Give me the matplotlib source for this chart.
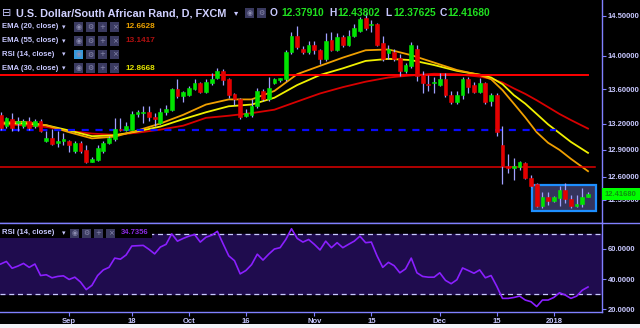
import matplotlib
matplotlib.use('Agg')
import matplotlib.pyplot as plt
import numpy as np
import pandas as pd
from matplotlib import font_manager
from matplotlib.patches import Rectangle
from matplotlib.lines import Line2D
from matplotlib.ticker import NullLocator

# ---- data (USD/ZAR daily, FXCM) ----
days = pd.bdate_range('2017-08-16', '2018-01-10')
days = days[~days.isin(pd.to_datetime(['2017-12-25', '2018-01-01']))]

opens = [13.30, 13.17, 13.25, 13.21, 13.17, 13.23, 13.17, 13.23, 13.00, 13.03,
         12.98, 13.00, 13.00, 12.89, 12.98, 12.90, 12.77, 12.79, 12.89, 12.98,
         13.02, 13.14, 13.12, 13.12, 13.31, 13.32, 13.33, 13.28, 13.21, 13.33,
         13.36, 13.60, 13.52, 13.53, 13.60, 13.67, 13.57, 13.67, 13.73, 13.82,
         13.72, 13.54, 13.48, 13.29, 13.30, 13.40, 13.58, 13.48, 13.68, 13.71,
         13.72, 14.05, 14.25, 14.09, 14.05, 14.13, 14.07, 13.96, 14.20, 14.07,
         14.23, 14.14, 14.25, 14.31, 14.47, 14.38, 14.39, 14.16, 14.04, 14.05,
         13.98, 13.82, 13.88, 14.09, 13.77, 13.66, 13.68, 13.65, 13.72, 13.53,
         13.45, 13.53, 13.72, 13.65, 13.57, 13.67, 13.46, 13.53, 12.96, 12.72,
         12.70, 12.71, 12.75, 12.59, 12.52, 12.28, 12.38, 12.34, 12.37, 12.46,
         12.36, 12.28, 12.31, 12.3791]
highs = [13.33, 13.28, 13.32, 13.27, 13.25, 13.28, 13.25, 13.25, 13.11, 13.14,
         13.11, 13.09, 13.01, 13.00, 13.00, 12.96, 12.82, 12.96, 13.00, 13.06,
         13.26, 13.26, 13.22, 13.34, 13.36, 13.40, 13.40, 13.32, 13.38, 13.42,
         13.62, 13.72, 13.58, 13.64, 13.72, 13.69, 13.72, 13.80, 13.85, 13.84,
         13.74, 13.56, 13.50, 13.37, 13.48, 13.61, 13.60, 13.75, 13.74, 13.74,
         14.07, 14.30, 14.37, 14.12, 14.18, 14.18, 14.08, 14.28, 14.30, 14.28,
         14.26, 14.32, 14.39, 14.49, 14.53, 14.45, 14.41, 14.24, 14.13, 14.08,
         14.02, 13.92, 14.17, 14.13, 13.82, 13.77, 13.75, 13.80, 13.80, 13.58,
         13.58, 13.75, 13.75, 13.69, 13.73, 13.69, 13.55, 13.55, 13.17, 12.85,
         12.81, 12.78, 12.77, 12.62, 12.53, 12.44, 12.43, 12.39, 12.50, 12.53,
         12.40, 12.40, 12.48, 12.43802]
lows = [13.12, 13.15, 13.11, 13.11, 13.15, 13.13, 13.15, 13.10, 12.99, 12.96,
        12.93, 12.96, 12.88, 12.87, 12.87, 12.75, 12.76, 12.78, 12.87, 12.97,
        13.00, 13.11, 13.11, 13.12, 13.27, 13.21, 13.23, 13.17, 13.19, 13.30,
        13.34, 13.50, 13.45, 13.52, 13.59, 13.55, 13.55, 13.65, 13.72, 13.65,
        13.50, 13.42, 13.25, 13.27, 13.28, 13.38, 13.46, 13.46, 13.66, 13.69,
        13.70, 14.02, 14.08, 14.02, 14.02, 14.02, 13.90, 13.94, 14.06, 14.06,
        14.11, 14.12, 14.23, 14.29, 14.32, 14.30, 14.12, 13.94, 13.96, 13.94,
        13.76, 13.80, 13.86, 13.70, 13.56, 13.58, 13.56, 13.64, 13.51, 13.43,
        13.43, 13.48, 13.56, 13.56, 13.56, 13.43, 13.40, 13.06, 12.52, 12.64,
        12.57, 12.68, 12.58, 12.49, 12.27, 12.26, 12.29, 12.33, 12.28, 12.32,
        12.26, 12.27, 12.27, 12.37625]
closes = [13.15, 13.26, 13.15, 13.23, 13.23, 13.15, 13.23, 13.11, 13.04, 12.97,
          13.00, 13.02, 12.95, 12.98, 12.89, 12.76, 12.80, 12.92, 12.98, 13.04,
          13.14, 13.12, 13.17, 13.31, 13.33, 13.33, 13.28, 13.25, 13.33, 13.37,
          13.60, 13.52, 13.57, 13.61, 13.67, 13.57, 13.69, 13.72, 13.82, 13.71,
          13.53, 13.48, 13.27, 13.32, 13.40, 13.58, 13.48, 13.62, 13.72, 13.73,
          14.05, 14.25, 14.11, 14.05, 14.13, 14.07, 13.96, 14.19, 14.07, 14.23,
          14.14, 14.25, 14.35, 14.46, 14.35, 14.40, 14.14, 13.96, 14.08, 13.96,
          13.82, 13.89, 14.13, 13.76, 13.67, 13.65, 13.69, 13.72, 13.53, 13.45,
          13.53, 13.72, 13.63, 13.57, 13.67, 13.45, 13.53, 13.10, 12.72, 12.70,
          12.72, 12.76, 12.59, 12.50, 12.28, 12.38, 12.34, 12.38, 12.46, 12.36,
          12.28, 12.31, 12.38, 12.4168]

rsi = [49.9, 51.6, 47.1, 48.5, 50.3, 47.7, 49.9, 42.3, 42.8, 40.8,
       41.7, 42.1, 39.7, 41.2, 38.0, 33.0, 35.8, 42.3, 46.0, 47.7,
       53.8, 53.1, 55.9, 61.8, 62.0, 62.2, 59.6, 56.6, 61.1, 62.9,
       69.8, 65.0, 66.8, 68.3, 69.4, 64.4, 67.6, 68.9, 71.5, 63.3,
       55.3, 52.1, 43.4, 45.6, 49.5, 56.4, 52.5, 56.4, 59.8, 60.7,
       66.1, 73.2, 66.8, 64.4, 66.1, 62.9, 59.2, 65.0, 60.7, 64.0,
       60.7, 62.9, 65.0, 68.3, 64.0, 64.4, 55.3, 47.7, 51.0, 48.8,
       44.1, 46.7, 53.8, 44.1, 41.7, 41.2, 41.2, 44.1, 39.1, 36.9,
       39.5, 47.3, 45.6, 43.8, 46.0, 40.8, 42.3, 35.2, 27.2, 27.2,
       27.8, 28.7, 26.1, 25.0, 21.8, 26.1, 26.1, 27.8, 30.9, 29.4,
       27.2, 28.7, 32.6, 34.7356]

# moving averages, read at these bars
ema_at = [0, 4, 8, 12, 16, 20, 24, 28, 32, 36, 40, 44, 48, 52, 56, 60, 64, 68,
          72, 76, 80, 84, 86, 88, 90, 92, 94, 96, 98, 100, 103]
ema20 = [13.21, 13.22, 13.18, 13.10, 13.03, 13.05, 13.12, 13.20, 13.30, 13.42,
         13.48, 13.48, 13.58, 13.78, 13.88, 13.98, 14.07, 14.08, 14.01, 13.92,
         13.83, 13.77, 13.72, 13.59, 13.43, 13.27, 13.10, 12.98, 12.90, 12.80, 12.6628]
ema30 = [13.20, 13.20, 13.18, 13.12, 13.055, 13.065, 13.11, 13.165, 13.25, 13.33,
         13.40, 13.42, 13.50, 13.65, 13.77, 13.85, 13.94, 13.965, 13.95, 13.89,
         13.82, 13.775, 13.74, 13.66, 13.53, 13.43, 13.31, 13.19, 13.09, 12.99, 12.8668]
ema55 = [13.19, 13.18, 13.16, 13.115, 13.085, 13.07, 13.095, 13.13, 13.175, 13.265,
         13.29, 13.32, 13.36, 13.455, 13.55, 13.625, 13.69, 13.74, 13.765, 13.785,
         13.78, 13.75, 13.725, 13.68, 13.61, 13.545, 13.47, 13.39, 13.31, 13.24, 13.1417]

resistance = 13.765
support = 12.707
pivot = 13.122

price_ticks = [14.5, 14.0, 13.6, 13.2, 12.9, 12.6, 12.35]
rsi_ticks = [60, 40, 20]
tick_days = ['2017-09-01', '2017-09-18', '2017-10-02', '2017-10-16', '2017-11-01',
             '2017-11-15', '2017-12-01', '2017-12-15', '2018-01-02']
tick_labels = ['Sep', '18', 'Oct', '16', 'Nov', '15', 'Dec', '15', '2018']

# ---- style ----
names = {f.name for f in font_manager.fontManager.ttflist}
if 'Liberation Sans Narrow' in names:
    fam = ['Liberation Sans Narrow', 'DejaVu Sans']
    k = 1.15
else:
    fam = ['Liberation Sans', 'DejaVu Sans']
    k = 0.92
plt.rcParams['font.family'] = fam

lav = '#c8c8ff'
axis_col = '#8080ff'
wick = '#a0a0ff'
green = '#00e400'
red = '#e40000'
W, H = 640, 328


def fx(px):
    return px / W


def fy(py):
    return 1 - py / H


fig = plt.figure(figsize=(6.4, 3.28), dpi=100, facecolor='black')
ax = fig.add_axes([0, fy(222.7), fx(601.7), 222.7 / H])
ax2 = fig.add_axes([0, fy(312), fx(601.7), (312 - 222.7) / H], sharex=ax)
for a in (ax, ax2):
    a.set_facecolor('black')
    for s in ('top', 'left'):
        a.spines[s].set_visible(False)
    a.spines['right'].set_color(axis_col)
    a.spines['bottom'].set_color(axis_col)
    a.spines['right'].set_linewidth(1.0)
    a.spines['bottom'].set_linewidth(1.0)
    a.yaxis.tick_right()

x = np.arange(len(closes))
o, h, l, c = map(np.array, (opens, highs, lows, closes))
col = np.where(c >= o, green, red)

# price panel
ax.plot(ema_at, ema55, color='#d80000', lw=1.3, zorder=2)
ax.plot(ema_at, ema30, color='#f0f000', lw=1.3, zorder=2)
ax.plot(ema_at, ema20, color='#f0a000', lw=1.3, zorder=2)
ax.plot([-1, 103], [resistance] * 2, color='#ff0000', lw=1.4, zorder=2)
ax.plot([-1, 104.3], [support] * 2, color='#e00000', lw=1.1, zorder=2)
ax.plot([-1, 97.3], [pivot] * 2, color='#0a0aff', lw=1.6, ls=(0, (3.2, 3.0)), zorder=2)
ax.add_patch(Rectangle((93.2, 12.23), 11.2, 0.28, facecolor='#34345c',
                       edgecolor='#1e8fff', lw=1.6, zorder=2.5))
ax.vlines(x, l, h, color=wick, lw=0.9, zorder=3)
ax.bar(x, np.abs(c - o), bottom=np.minimum(o, c), width=0.66, color=col,
       edgecolor=col, lw=0.4, zorder=4)

ax.set_yscale('log')
ax.set_ylim(12.107, 14.70)
ax.set_xlim(-0.12, 105.4)
ax.set_yticks(price_ticks, labels=['%.5f' % t for t in price_ticks],
              fontsize=6 * k, fontweight='bold')
ax.yaxis.set_minor_locator(NullLocator())
ax.tick_params(axis='y', length=3, width=0.8, color=axis_col, labelcolor=lav, pad=1.5)
ax.tick_params(axis='x', bottom=False, labelbottom=False)

# rsi panel
ax2.axhspan(30, 70, color='#1f0c4e', zorder=1)
for lev in (70, 30):
    ax2.axhline(lev, color=lav, lw=0.9, ls=(0, (4, 3)), zorder=2)
ax2.plot(x, rsi, color='#8a1fff', lw=1.2, zorder=3)
ax2.set_ylim(18.2, 77.2)
ax2.set_yticks(rsi_ticks, labels=['%.4f' % t for t in rsi_ticks],
               fontsize=6 * k, fontweight='bold')
ax2.tick_params(axis='y', length=3, width=0.8, color=axis_col, labelcolor=lav, pad=1.5)
tick_pos = [days.get_loc(pd.Timestamp(d)) for d in tick_days]
ax2.set_xticks(tick_pos, labels=tick_labels, fontsize=6 * k, fontweight='bold')
ax2.tick_params(axis='x', length=3, width=0.8, color=axis_col, labelcolor=lav, pad=1)

# panel separator and bottom strip
fig.add_artist(Line2D([0, 1], [fy(222.7)] * 2, color=axis_col, lw=1.0))
fig.patches.append(Rectangle((0, 0), 1, fy(324), transform=fig.transFigure,
                             facecolor='#f2f2f8', edgecolor='none', zorder=5))

# last price badge
fig.patches.append(Rectangle((fx(602), fy(199.5)), fx(38), 11.5 / H, transform=fig.transFigure,
                             facecolor='#00ff00', edgecolor='none', zorder=5))
fig.text(fx(605), fy(194), '12.41680', color='#109010', fontsize=6 * k,
         fontweight='bold', va='center', zorder=6)


# legend header
def icons(x0, yc, n, first='#3a3a60'):
    glyphs = ['◉', '⚙', '+', '×']
    for i in range(n):
        fc = first if i == 0 else '#3a3a60'
        fig.patches.append(Rectangle((fx(x0 + 12 * i), fy(yc + 4.5)), fx(9), 9 / H,
                                     transform=fig.transFigure, facecolor=fc,
                                     edgecolor='none', zorder=5))
        fig.text(fx(x0 + 12 * i + 4.5), fy(yc), glyphs[i], color='#8c8cb0',
                 fontsize=5, ha='center', va='center', family='DejaVu Sans', zorder=6)


fig.text(fx(2), fy(13), '⊟', color=lav, fontsize=8, va='center', family='DejaVu Sans')
fig.text(fx(16), fy(13), 'U.S. Dollar/South African Rand, D, FXCM', color='#d0d0ff',
         fontsize=8.5 * k, fontweight='bold', va='center')
fig.text(fx(234), fy(13), '▾', color=lav, fontsize=6, va='center', family='DejaVu Sans')
icons(245, 13, 2)
for xl, lab, xv, val in [(270, 'O', 281, '12.37910'), (329, 'H', 337, '12.43802'),
                         (385, 'L', 393, '12.37625'), (440, 'C', 447, '12.41680')]:
    fig.text(fx(xl), fy(13), lab, color=lav, fontsize=8 * k, fontweight='bold', va='center')
    fig.text(fx(xv), fy(13), val, color='#20e020', fontsize=8 * k, fontweight='bold', va='center')

rows = [(27, 'EMA (20, close)', '12.6628', '#e8a000'),
        (41, 'EMA (55, close)', '13.1417', '#b01010'),
        (54.5, 'RSI (14, close)', '', None),
        (68, 'EMA (30, close)', '12.8668', '#e0e000')]
for yc, lab, val, vc in rows:
    fig.text(fx(2), fy(yc), lab, color=lav, fontsize=6 * k, fontweight='bold', va='center')
    fig.text(fx(62), fy(yc), '▾', color=lav, fontsize=5, va='center', family='DejaVu Sans')
    if vc is None:
        icons(74, yc, 4, first='#3399dd')
    else:
        icons(74, yc, 4)
        fig.text(fx(126), fy(yc), val, color=vc, fontsize=6.5 * k, fontweight='bold', va='center')

# rsi header
fig.patches.append(Rectangle((0, fy(238)), fx(152), 10 / H, transform=fig.transFigure,
                             facecolor='black', edgecolor='none', zorder=1))
fig.text(fx(2), fy(233), 'RSI (14, close)', color=lav, fontsize=6 * k, fontweight='bold',
         va='center')
fig.text(fx(62), fy(233), '▾', color=lav, fontsize=5, va='center', family='DejaVu Sans')
icons(70, 233, 4)
fig.text(fx(121), fy(233), '34.7356', color='#8a2be2', fontsize=6 * k, fontweight='bold',
         va='center')

fig.savefig('out.png', dpi=100, facecolor='black')
